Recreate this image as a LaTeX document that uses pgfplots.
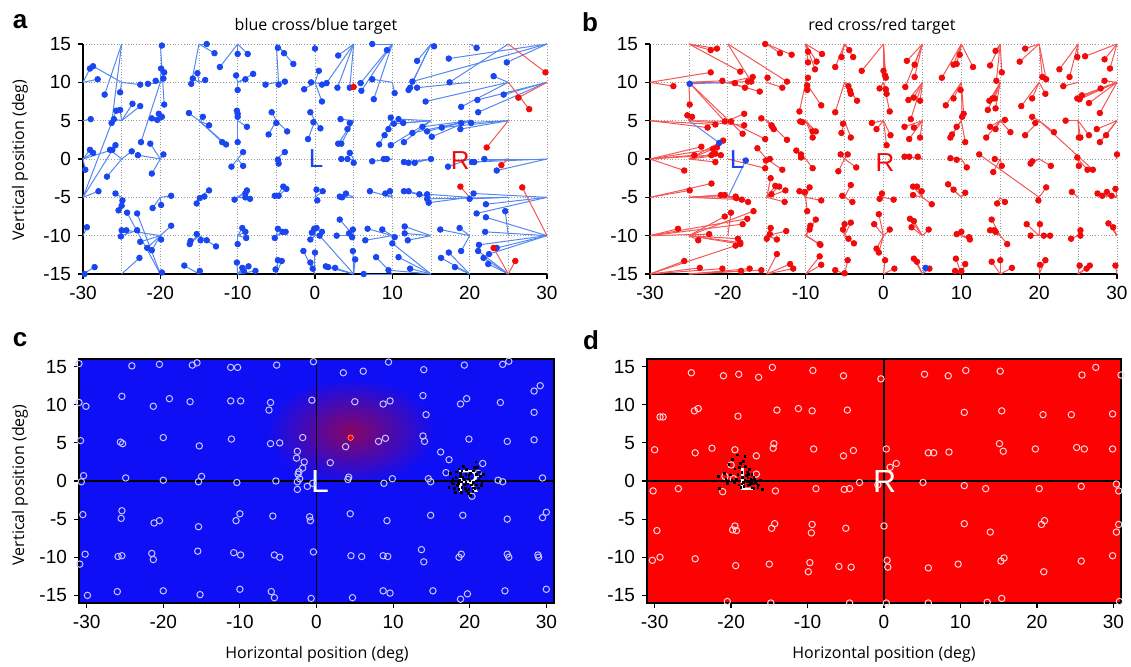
\documentclass[border=0pt]{standalone}
\usepackage{pgfplots}
\pgfplotsset{compat=1.18}
\usepackage{pgfplotstable}
\usepackage{fontspec}
\setmainfont{Liberation Sans}
\newfontfamily\labfont{Open Sans}

\definecolor{dotblue}{RGB}{25,70,240}
\definecolor{lineblue}{RGB}{85,135,240}
\definecolor{dotred}{RGB}{240,10,10}
\definecolor{linered}{RGB}{245,85,85}
\definecolor{bgblue}{RGB}{15,15,245}
\definecolor{bgred}{RGB}{252,2,2}
\definecolor{glow}{RGB}{135,5,100}

% saccades: target (tx,ty) -> landing point (x,y)
\pgfplotstableread{
tx ty x y
-20 15 -19.8 14.8
-15 15 -14.0 15.0
-15 15 -13.0 13.8
-10 15 -12.3 12.0
-10 15 -10.0 13.7
-10 15 -8.7 13.7
-5 15 -4.8 14.5
-5 15 -4.0 13.8
-30 10 -29.1 11.8
-25 10 -28.7 12.1
-30 10 -28.1 10.4
-25 15 -27.2 8.4
-25 10 -25.2 8.7
-25 10 -22.6 9.7
-20 10 -21.6 9.8
-20 10 -20.6 10.2
-20 10 -19.9 11.8
-20 10 -19.5 11.3
-20 10 -19.6 10.5
-20 15 -19.5 7.1
-15 15 -16.0 9.8
-15 10 -15.8 10.5
-15 10 -15.2 11.2
-15 10 -14.2 10.3
-10 10 -10.2 10.9
-10 10 -10.0 9.0
-10 10 -9.0 10.4
-10 10 -8.0 11.1
-5 10 -6.4 9.7
-5 15 -4.7 9.7
-5 10 -3.9 10.1
-30 5 -29.0 5.2
-25 15 -26.3 4.7
-25 5 -26.0 5.2
-30 -5 -25.7 6.3
-25 5 -25.2 6.4
-25 5 -23.6 7.2
-25 5 -22.6 6.9
-20 5 -21.1 5.3
-20 5 -20.4 5.1
-20 5 -20.2 5.9
-20 5 -19.8 5.5
-15 5 -16.3 6.0
-15 5 -14.5 5.5
-15 5 -13.7 4.4
-15 5 -12.0 2.2
-15 5 -11.5 1.9
-10 5 -10.1 6.3
-10 5 -10.0 5.9
-10 5 -10.0 5.5
-10 5 -8.8 4.2
-10 5 -10.0 2.2
-5 5 -5.6 6.1
-5 5 -6.0 3.2
-5 5 -5.0 4.7
-5 5 -3.6 3.6
-30 0 -29.7 -1.4
-30 0 -29.1 1.2
-30 0 -28.7 0.8
-25 0 -26.5 1.2
-30 0 -26.2 1.2
-30 -5 -25.8 1.8
-25 0 -23.7 1.0
-20 0 -22.9 0.5
-20 10 -22.5 2.2
-20 0 -21.3 2.0
-20 0 -21.1 -1.9
-20 0 -19.6 0.6
-25 0 -26.9 -2.3
-10 0 -10.8 -1.0
-10 0 -9.3 0.9
-10 0 -9.3 -0.9
-5 0 -4.8 -0.1
-5 0 -4.7 -0.6
-5 0 -3.9 0.9
-30 -5 -28.0 -4.2
-25 -5 -25.8 -4.5
-25 -5 -24.9 -5.4
-25 -5 -25.0 -6.1
-25 -5 -25.4 -6.7
-20 -15 -24.3 -7.0
-20 -15 -23.0 -7.1
-20 -5 -21.0 -6.4
-20 -5 -19.9 -6.0
-20 -5 -18.6 -4.8
-15 -5 -15.3 -5.8
-15 -5 -14.9 -5.1
-15 -5 -14.3 -4.9
-15 -5 -13.7 -4.1
-10 -5 -10.4 -5.3
-10 -5 -8.8 -4.1
-10 -5 -9.0 -4.5
-10 -5 -9.0 -5.0
-10 -5 -8.4 -5.2
-5 -5 -5.2 -4.8
-5 -5 -4.7 -4.8
-5 -5 -4.1 -3.6
-5 -5 -3.7 -3.9
-30 -10 -29.5 -8.9
-25 -10 -25.1 -10.1
-25 -10 -25.0 -9.3
-20 -10 -24.4 -9.3
-25 -10 -23.0 -9.3
-20 -10 -22.6 -10.8
-20 -10 -21.7 -11.6
-20 -10 -21.1 -11.9
-20 -10 -19.9 -10.5
-20 -10 -18.6 -8.7
-15 -10 -16.2 -11.1
-15 -10 -16.1 -10.7
-15 -10 -15.3 -9.8
-15 -10 -14.8 -10.6
-15 -10 -14.0 -10.6
-15 -10 -12.8 -11.4
-10 -10 -10.0 -11.1
-10 -10 -9.4 -9.0
-10 -10 -9.0 -9.5
-10 -10 -8.9 -10.3
-5 -10 -5.2 -10.3
-5 -10 -4.8 -9.1
-5 -10 -4.2 -9.5
-5 -10 -3.8 -9.5
-30 -15 -29.8 -15.0
-30 -15 -28.5 -14.1
-25 -15 -22.7 -12.9
-20 -15 -19.8 -14.8
-15 -15 -16.9 -13.9
-15 -15 -14.9 -14.6
-10 -15 -10.1 -13.5
-10 -15 -9.4 -14.2
-10 -15 -9.2 -14.6
-10 -15 -8.6 -14.0
-10 -15 -7.7 -14.6
-5 -15 -5.1 -14.4
-5 -15 -4.8 -13.2
-5 -15 -4.3 -13.3
0 15 0.0 14.4
5 15 3.0 13.5
-5 15 -2.8 12.4
10 15 7.4 15.0
10 15 9.3 14.2
15 15 13.2 12.8
15 15 15.4 14.7
30 15 17.3 13.1
20 15 20.9 14.5
30 15 24.8 12.6
0 10 0.5 11.5
0 10 -0.5 10.0
0 10 -1.4 9.1
0 10 0.9 9.7
5 15 1.5 9.9
0 10 0.9 7.5
5 15 2.9 9.3
5 15 4.5 9.3
10 15 5.9 9.9
10 15 6.0 8.9
10 10 7.4 10.4
10 15 7.6 7.8
10 10 10.3 8.6
30 15 12.6 10.1
15 15 12.3 9.3
15 15 12.1 9.0
20 10 13.2 9.3
25 10 14.3 7.5
25 15 17.4 10.0
25 10 18.9 6.8
30 10 21.0 7.7
30 10 21.1 6.1
30 10 24.4 8.4
25 10 23.1 10.8
0 5 -0.6 6.1
0 5 -0.9 2.6
0 5 -0.2 4.8
0 5 0.7 4.0
5 5 3.3 5.2
5 5 4.2 3.9
5 5 4.5 4.7
5 5 3.0 2.0
5 5 3.4 2.0
10 5 9.8 5.4
15 5 10.8 5.2
15 5 10.2 4.6
10 5 9.5 3.9
10 5 9.0 3.1
10 5 8.3 1.9
15 5 9.8 1.8
15 5 11.5 2.2
15 5 11.4 4.7
20 5 12.6 3.4
20 5 13.9 4.2
20 5 14.5 3.6
20 5 15.1 2.9
25 5 16.4 4.1
25 5 18.9 4.7
25 5 18.8 3.9
20 5 20.2 4.7
5 0 3.4 0.0
5 0 4.5 0.8
5 0 4.2 0.0
5 0 5.0 -0.5
10 0 7.4 -0.3
10 0 8.9 0.0
10 0 9.3 0.0
15 0 11.5 -0.4
15 0 12.1 -0.5
15 0 12.9 -0.5
15 0 15.0 0.0
20 0 17.2 -1.0
30 0 20.3 -0.4
25 0 20.6 -0.4
30 0 21.9 0.0
30 0 23.5 -1.5
0 -5 0.2 -4.0
0 -5 1.0 -4.2
0 -5 0.3 -5.4
5 -5 3.2 -4.9
5 -5 3.5 -5.0
5 -5 4.0 -4.5
10 -5 7.1 -4.2
10 -5 9.1 -4.5
10 -5 9.7 -4.2
15 -5 11.5 -4.2
15 -5 12.1 -4.2
15 -5 13.5 -4.6
20 -5 14.5 -4.6
20 -5 14.7 -5.7
25 -5 14.5 -5.2
25 -5 20.0 -5.2
30 -5 20.5 -4.5
30 -5 22.1 -5.9
25 -10 24.6 -6.8
30 -5 20.9 -7.1
0 -10 -0.4 -9.6
0 -10 -0.1 -9.1
0 -10 0.2 -9.0
0 -10 0.9 -9.5
5 -15 0.6 -10.0
0 -10 -0.6 -10.5
5 -10 2.8 -10.0
5 -10 3.2 -7.9
5 -10 4.4 -9.7
5 -10 4.9 -9.2
5 -10 4.8 -10.2
10 -10 6.8 -9.1
10 -10 8.7 -9.2
10 -10 6.5 -10.6
15 -15 10.0 -11.0
10 -10 10.3 -10.2
15 -10 11.6 -9.7
15 -10 12.0 -10.6
15 -10 11.6 -8.8
20 -10 16.2 -9.2
20 -10 18.7 -9.0
30 -10 21.2 -11.2
30 -10 22.1 -7.6
30 -10 22.0 -9.5
25 -15 21.1 -12.0
25 -15 21.8 -12.9
30 -10 22.5 -12.4
30 -10 23.5 -11.6
25 -15 22.4 -13.7
0 -15 -1.5 -12.0
0 -15 -0.6 -13.5
0 -15 -0.3 -14.3
0 -15 0.0 -12.2
5 -15 1.4 -14.0
5 -15 1.7 -14.1
5 -15 2.6 -14.2
5 -15 4.9 -12.0
5 -15 5.2 -13.1
10 -15 6.3 -15.0
10 -15 7.9 -12.8
15 -15 9.5 -14.5
15 -15 10.8 -12.8
15 -15 12.3 -14.3
20 -15 16.3 -12.9
20 -15 17.3 -12.2
20 -15 18.1 -14.1
20 -10 18.9 -12.0
}\blueA

\pgfplotstableread{
tx ty x y
5 10 5.0 9.4
25 15 29.8 11.3
30 10 26.3 8.0
25 10 27.7 6.5
25 5 22.2 1.5
25 0 24.1 -0.8
20 -5 18.8 -3.6
30 -10 26.8 -3.7
25 -15 23.1 -11.6
25 -15 25.9 -13.3
}\redA

\pgfplotstableread{
tx ty x y
-25 15 -22.2 14.2
-25 15 -21.4 14.4
-15 15 -15.2 15.0
-15 15 -13.3 13.8
-15 15 -11.8 13.6
-10 15 -9.7 14.0
-10 15 -9.7 12.6
-10 15 -8.6 12.7
-10 15 -8.8 11.7
-10 15 -7.9 13.7
-5 15 -6.2 12.0
-5 15 -5.4 13.3
-5 15 -4.4 14.2
-5 15 -3.9 13.3
-30 10 -22.2 11.3
-25 15 -18.4 11.4
-30 10 -27.0 9.5
-25 10 -20.7 10.2
-25 10 -19.1 9.9
-20 10 -17.8 9.3
-20 10 -17.4 10.1
-20 10 -16.8 10.7
-20 15 -17.0 10.1
-20 10 -15.9 8.8
-15 10 -14.9 10.6
-15 10 -13.0 9.3
-20 15 -12.4 10.1
-10 10 -9.7 10.6
-10 10 -9.8 9.0
-10 10 -9.8 9.6
-10 10 -8.0 7.0
-5 10 -6.2 6.1
-5 10 -4.5 9.5
-5 10 -4.3 8.9
-5 10 -4.2 8.5
-5 10 -3.4 7.6
-25 5 -25.2 5.7
-25 5 -24.6 5.5
-25 10 -24.9 7.1
-30 5 -22.6 4.1
-30 5 -21.6 4.5
-25 10 -20.4 4.9
-25 5 -19.6 4.9
-20 5 -17.9 5.9
-25 5 -17.9 4.4
-25 10 -18.1 3.3
-15 5 -15.7 5.3
-20 5 -15.2 2.6
-15 5 -14.4 4.4
-15 5 -14.1 3.9
-15 5 -14.3 4.2
-15 5 -12.4 2.5
-10 10 -10.8 6.2
-10 5 -10.7 4.9
-10 5 -10.4 4.8
-10 5 -9.1 3.6
-10 5 -8.7 3.6
-10 5 -9.1 2.8
-5 5 -5.2 4.6
-5 5 -5.4 3.4
-5 5 -4.2 2.8
-30 0 -23.4 1.6
-30 0 -24.3 0.5
-30 0 -21.9 1.3
-25 0 -21.4 1.5
-25 0 -21.6 0.7
-30 0 -22.1 0.5
-25 0 -20.9 0.5
-25 0 -21.6 -0.4
-25 0 -20.6 2.4
-30 0 -25.6 -1.5
-15 0 -16.2 1.4
-20 0 -15.2 -1.2
-15 0 -15.1 -0.2
-15 0 -14.6 0.0
-15 0 -13.0 -1.4
-10 0 -11.2 1.1
-10 0 -10.6 0.6
-10 0 -10.6 0.2
-10 0 -9.1 -1.2
-5 0 -5.5 0.6
-5 0 -4.6 0.6
-5 0 -3.5 -1.1
-5 0 -5.8 -1.6
-30 -5 -22.1 -3.2
-30 -5 -24.9 -4.1
-25 -5 -20.9 -4.7
-25 -5 -20.4 -4.7
-25 -5 -19.0 -4.9
-20 -5 -18.9 -5.1
-25 -5 -18.2 -5.3
-20 -5 -17.4 -5.6
-25 -10 -16.7 -6.8
-20 -10 -19.6 -7.0
-25 -10 -20.4 -7.5
-15 -5 -14.5 -2.5
-15 -5 -13.9 -3.5
-15 -5 -13.4 -3.6
-15 -5 -14.4 -4.6
-15 -5 -12.6 -4.1
-15 -5 -12.7 -5.6
-10 -5 -10.8 -4.2
-10 -5 -10.1 -4.3
-10 -5 -9.5 -3.7
-10 -5 -8.0 -5.4
-10 -5 -9.8 -6.8
-5 -5 -5.3 -4.8
-5 -5 -4.2 -3.4
-5 -5 -4.0 -5.6
-30 -10 -26.4 -9.1
-30 -10 -22.4 -9.8
-25 -10 -23.8 -10.6
-30 -10 -18.1 -8.5
-30 -10 -17.5 -7.8
-25 -10 -18.7 -10.4
-25 -10 -18.4 -10.9
-30 -15 -19.0 -11.3
-25 -10 -18.4 -11.1
-15 -10 -14.5 -9.0
-15 -10 -14.6 -9.8
-15 -10 -15.0 -10.4
-15 -10 -13.7 -10.5
-15 -10 -12.5 -9.4
-10 -10 -9.4 -8.7
-10 -10 -9.5 -9.2
-10 -10 -8.7 -7.9
-10 -10 -8.2 -11.1
-10 -10 -8.1 -11.2
-5 -10 -5.0 -8.5
-5 -10 -5.2 -9.2
-5 -10 -4.2 -8.3
-5 -10 -4.5 -10.4
-5 -10 -3.8 -11.0
-30 -15 -25.6 -13.3
-30 -15 -23.6 -14.2
-30 -15 -20.7 -14.3
-25 -15 -18.3 -14.6
-25 -15 -17.2 -14.3
-25 -15 -15.7 -14.5
-15 -15 -13.7 -12.4
-15 -15 -12.0 -13.7
-15 -15 -11.6 -14.3
-10 -15 -8.2 -12.7
-10 -15 -8.0 -13.8
-5 -15 -6.2 -14.5
-5 -15 -5.0 -14.9
-5 -15 -4.6 -13.2
0 15 0.0 11.5
0 15 0.2 10.9
0 15 0.3 10.6
0 15 -2.8 11.5
5 15 3.0 12.8
5 15 4.0 12.3
5 15 4.0 10.7
5 15 2.8 9.4
10 15 7.5 10.6
10 15 9.0 12.3
10 15 9.4 12.4
10 15 9.8 13.6
10 15 11.5 12.0
15 15 13.7 12.2
15 15 14.4 14.1
15 15 14.5 10.2
15 15 15.2 11.3
20 15 17.5 12.7
20 15 18.2 14.4
20 15 20.4 10.7
20 15 20.9 10.4
25 15 22.6 11.7
25 15 24.9 13.3
25 15 23.9 10.7
30 15 25.9 13.4
30 15 28.4 13.0
30 15 29.1 11.8
0 10 -0.5 9.2
0 10 0.3 9.1
0 10 0.4 8.5
0 10 0.8 6.2
5 10 3.2 7.7
5 10 3.9 8.0
5 10 4.7 7.6
5 10 3.5 5.2
10 10 8.0 7.0
10 10 9.0 7.9
10 10 9.9 9.0
10 10 10.3 5.9
10 10 10.1 5.5
15 10 13.4 6.4
15 10 13.6 7.6
15 10 14.0 7.9
15 10 14.4 6.6
15 10 14.3 7.9
20 10 17.7 6.9
20 10 19.1 7.9
20 10 20.8 8.5
25 10 23.1 9.5
30 10 24.9 7.9
30 10 25.2 7.8
30 10 25.5 8.3
30 10 26.4 7.3
30 10 27.9 9.2
30 10 27.8 6.0
30 10 28.4 10.2
0 5 -1.5 4.7
0 5 -0.9 3.9
0 5 0.4 1.8
0 5 0.9 3.1
5 5 2.7 4.2
5 5 3.3 2.6
5 5 3.9 4.1
5 5 4.7 2.8
10 5 8.6 2.8
10 5 8.8 3.2
10 5 9.4 4.2
10 5 10.5 2.2
15 5 13.2 2.8
15 5 13.7 4.2
15 5 14.4 3.9
15 5 15.6 5.1
15 5 16.3 3.5
20 5 18.2 3.1
20 5 19.1 5.5
20 5 19.5 4.7
20 5 21.9 3.5
25 5 23.4 5.0
25 5 25.1 2.8
25 5 25.3 2.8
25 5 26.4 3.1
30 5 27.4 3.9
30 5 27.8 2.2
30 5 28.6 3.1
20 5 26.9 -1.4
5 0 2.7 0.3
5 0 3.3 0.3
5 0 4.4 0.3
10 0 8.6 0.1
10 0 9.4 -0.1
10 0 10.7 -1.1
20 -5 12.3 0.6
15 0 14.1 -1.7
15 0 14.3 0.0
15 0 15.2 -0.9
20 0 18.9 -0.6
20 0 19.1 -0.3
20 0 21.5 -0.9
25 0 24.9 0.2
25 0 25.1 -0.9
25 0 26.2 -1.4
30 0 30.0 0.6
0 -5 -0.2 -4.5
0 -5 -0.5 -5.2
0 -5 1.3 -5.3
5 -5 3.8 -3.6
5 -5 4.3 -3.6
5 -5 3.8 -4.7
5 -5 4.9 -4.2
5 -5 6.2 -5.9
10 -5 8.3 -3.3
10 -5 9.0 -4.0
10 -5 10.5 -4.4
15 -5 14.6 -5.8
15 -5 15.6 -5.6
20 -5 20.9 -3.7
20 -5 19.9 -5.4
25 -5 24.2 -4.3
30 -5 27.5 -4.5
30 -5 28.1 -4.8
30 -5 28.7 -4.3
30 -5 29.3 -4.8
30 -5 29.8 -3.9
0 -10 -0.6 -7.2
0 -10 -1.2 -8.5
0 -10 0.8 -9.2
0 -10 -0.9 -11.7
0 -10 -0.6 -12.2
5 -10 3.4 -7.8
5 -10 3.9 -8.1
5 -10 3.6 -8.9
5 -10 5.8 -9.2
10 -10 9.4 -9.8
10 -10 10.0 -9.5
10 -10 11.0 -10.2
10 -10 11.1 -10.5
15 -10 13.9 -7.9
15 -10 13.7 -9.3
15 -10 14.2 -9.3
15 -10 14.4 -9.5
15 -10 15.9 -11.1
20 -10 18.4 -8.5
20 -10 18.9 -10.0
20 -10 20.1 -8.5
20 -10 20.6 -10.0
20 -10 21.4 -10.0
25 -10 24.1 -10.4
25 -10 25.3 -9.3
25 -10 25.3 -10.0
30 -10 28.9 -8.4
30 -10 29.5 -8.9
0 -15 1.4 -14.3
0 -15 0.2 -13.2
5 -15 3.9 -13.0
5 -15 4.3 -13.4
5 -15 5.9 -14.3
10 -15 9.3 -13.0
10 -15 9.2 -14.6
10 -15 10.0 -14.6
10 -15 10.5 -13.7
15 -15 13.9 -13.4
15 -15 15.0 -13.2
15 -15 16.5 -14.2
20 -15 20.1 -13.8
20 -15 20.8 -13.2
25 -15 25.2 -13.9
25 -15 26.1 -14.3
25 -15 26.5 -13.9
30 -15 29.8 -13.9
}\redB

\pgfplotstableread{
tx ty x y
-20 10 -24.9 9.8
-25 5 -21.1 2.1
-20 -5 -17.7 -0.2
5 -15 5.4 -14.2
}\blueB

% target positions shown as open rings
\pgfplotstableread{
x y
-31.0 15.4
-24.1 15.1
-20.5 15.3
-16.2 15.2
-15.6 15.5
-11.2 14.9
-10.3 14.9
-5.2 15.2
-31.0 10.3
-30.1 9.8
-25.4 11.1
-21.3 9.8
-19.2 10.8
-16.5 10.4
-11.2 10.5
-9.9 10.5
-6.0 10.3
-6.2 9.3
-30.8 5.3
-25.6 5.1
-25.3 4.9
-20.0 5.7
-15.3 4.6
-11.1 5.5
-6.0 4.9
-4.8 5.0
-2.5 3.9
-2.6 3.0
-30.4 0.7
-30.7 -0.1
-24.9 0.4
-20.0 0.1
-15.4 -0.1
-15.0 0.6
-10.4 -0.2
-5.3 0.0
-2.4 0.9
-2.5 -0.1
-2.5 -1.1
-30.5 -4.4
-25.4 -3.9
-25.5 -4.9
-21.2 -5.5
-20.5 -5.2
-15.4 -6.0
-10.0 -4.3
-10.5 -5.2
-5.7 -4.6
-30.2 -9.6
-30.9 -10.9
-25.9 -9.9
-25.4 -9.8
-21.5 -9.5
-21.3 -10.3
-15.5 -9.2
-10.8 -9.4
-9.9 -9.7
-5.5 -9.7
-4.8 -10.0
-29.9 -15.0
-26.0 -14.5
-20.0 -14.4
-15.2 -14.9
-10.0 -14.2
-5.9 -14.5
-5.5 -15.3
-0.4 15.65
3.5 14.2
6.1 14.4
9.4 15.6
14.0 14.6
19.3 15.2
24.3 15.3
25.1 15.7
-0.6 10.6
5.0 10.4
8.7 10.1
9.6 10.5
13.9 11.2
14.3 8.7
18.8 10.1
19.6 10.8
24.0 10.3
28.4 11.8
29.2 12.5
28.4 9.0
-1.8 5.7
3.8 4.5
8.1 5.2
9.0 5.6
13.9 5.9
14.1 5.2
19.9 5.5
24.9 5.2
28.4 5.4
-1.6 2.5
-1.8 1.7
-2.3 1.2
-2.2 0.3
-1.2 -0.7
-0.5 -0.3
1.8 2.4
4.2 0.5
4.1 0.2
8.8 -0.3
9.9 0.3
14.6 0.3
14.9 -0.1
16.2 3.8
17.3 2.8
16.9 1.1
20.3 -2.0
21.7 2.3
21.1 1.0
23.7 0.1
24.3 -0.1
29.5 0.4
-0.9 -4.7
-0.8 -5.2
4.4 -4.3
9.2 -5.2
14.9 -4.5
19.1 -4.5
24.9 -5.0
30.0 -4.1
29.5 -4.8
-0.4 -9.3
4.5 -9.8
5.9 -9.9
8.7 -9.8
9.3 -9.9
13.7 -9.0
14.0 -10.6
18.6 -10.0
18.9 -9.6
24.9 -9.6
25.1 -10.0
28.9 -9.7
29.0 -10.0
-0.7 -15.4
4.7 -15.3
8.7 -14.4
9.6 -14.7
15.2 -14.4
18.8 -15.5
19.7 -14.8
24.6 -14.4
30.0 -14.2
}\ringsC

\pgfplotstableread{
x y
-25.2 14.2
-21.0 13.8
-19.0 14.0
-16.4 13.6
-14.6 14.9
-9.3 14.5
-5.3 13.8
-29.3 8.4
-28.9 8.4
-24.8 9.2
-24.3 9.5
-19.1 8.5
-14.0 9.3
-11.2 9.5
-9.4 9.2
-4.8 9.3
-30.0 4.1
-24.7 3.7
-22.5 4.3
-19.5 4.1
-14.4 4.9
-14.5 4.3
-16.7 3.3
-9.2 4.2
-5.3 3.3
-4.0 4.0
-20.0 2.1
-20.8 0.6
-19.7 0.3
-16.7 0.9
-30.2 -1.3
-26.9 -1.0
-21.1 -1.4
-14.2 -1.3
-8.9 -1.0
-5.2 -1.1
-4.5 -1.0
-3.2 -0.2
-29.7 -6.5
-19.5 -5.9
-19.8 -6.4
-19.3 -6.5
-14.3 -5.6
-14.7 -6.2
-9.4 -5.7
-9.5 -6.8
-5.0 -6.2
-30.3 -10.4
-29.3 -10.0
-24.7 -10.2
-19.4 -11.1
-15.0 -10.9
-9.7 -10.7
-9.9 -11.9
-5.9 -11.2
-4.3 -11.3
-20.5 -15.8
-14.8 -16.0
-4.5 -16.0
-0.4 13.4
5.3 14.0
8.4 13.8
10.7 14.5
15.2 14.4
25.9 13.9
27.7 14.9
31.0 13.9
10.5 9.0
15.4 9.2
20.8 8.7
24.5 8.7
29.9 8.8
0.3 4.2
5.8 3.7
6.5 3.7
8.5 3.8
15.1 4.9
15.6 3.9
19.8 4.2
25.2 4.4
26.2 4.2
29.9 4.2
0.8 1.8
1.6 2.3
-0.8 -0.5
5.1 -0.2
10.5 -0.6
13.3 -1.0
20.3 -1.0
25.8 -0.7
30.4 -0.4
30.7 -1.3
0.0 -5.9
10.5 -5.6
13.9 -6.7
20.6 -5.7
21.0 -5.2
30.7 -5.7
30.4 -6.7
0.4 -10.4
0.5 -11.3
5.8 -11.4
9.7 -10.9
15.3 -10.5
15.7 -10.1
20.9 -11.9
25.8 -10.5
29.9 -9.8
0.3 -16.0
5.8 -16.0
13.5 -15.9
15.4 -15.4
25.0 -16.1
26.2 -16.1
30.8 -15.8
}\ringsD

% fixation samples
\pgfplotstableread{
x y
18.2 0.5
18.5 -0.3
18.8 1.0
19.0 -0.8
19.3 0.2
19.6 -1.2
19.9 0.7
20.2 -0.5
20.5 1.3
20.8 0.0
21.1 -0.9
21.4 0.6
18.0 -1.0
17.8 0.2
18.6 1.6
19.2 1.9
19.8 -1.6
20.4 -1.4
21.0 1.8
21.6 -0.2
17.5 1.0
18.9 -1.5
19.5 0.9
20.0 0.0
20.7 -1.0
19.1 0.5
18.4 -0.6
20.9 0.9
19.7 -0.4
18.7 0.1
21.3 1.2
17.9 -0.4
19.4 -1.0
20.3 0.4
20.6 1.8
18.3 1.2
21.8 0.9
19.0 1.3
20.1 -1.9
18.1 -1.5
20.8 2.5
17.3 -0.8
19.6 1.5
20.5 -0.2
18.9 -0.1
18.6 -1.1
19.3 -0.5
19.8 0.3
20.1 1.0
20.9 -0.5
21.2 0.1
18.1 0.0
18.8 0.6
19.5 -0.2
20.4 -0.9
17.7 -0.2
19.9 -1.1
21.5 -0.6
}\fixC

\pgfplotstableread{
x y
-21.5 -1.0
-21.7 0.6
-20.9 1.0
-20.5 -0.3
-20.1 0.8
-19.8 2.8
-19.5 1.6
-19.3 0.2
-19.0 -0.5
-18.8 2.3
-18.6 1.1
-18.4 -0.2
-18.2 3.2
-18.0 0.7
-17.8 -0.6
-17.6 1.5
-17.4 0.2
-17.2 -0.9
-17.0 0.5
-16.8 -0.2
-16.5 -0.8
-16.2 0.1
-15.9 -1.1
-19.2 3.4
-20.3 2.2
-18.9 1.8
-18.1 1.9
-17.9 -0.1
-17.5 -0.3
-17.1 -0.4
-16.9 0.3
-18.5 0.5
-19.6 -0.2
-20.7 0.3
-18.3 -0.7
-17.7 0.9
-16.6 -0.4
-17.3 0.9
-18.7 -0.8
-19.9 0.1
-17.0 -1.0
-16.4 -0.5
-18.2 0.1
-17.6 -0.5
-17.9 1.2
-18.6 -0.4
-17.3 -0.2
-16.7 0.0
-19.1 0.9
-18.4 2.6
-17.1 0.1
-17.8 0.4
}\fixD

\pgfplotsset{
  common/.style={
    scale only axis,
    /pgf/number format/assume math mode=true,
    tick label style={font=\fontsize{9.5}{9.5}\selectfont, text=black},
    tick align=outside,
    major tick length=2.5pt,
    tick style={black, line width=0.6pt},
  },
  toppanel/.style={
    common,
    height=115pt,
    xmin=-30, xmax=30, ymin=-15, ymax=15,
    axis x line*=bottom, axis y line*=left,
    axis line style={-, line width=0.8pt, black},
    xtick={-30,-20,...,30},
    minor xtick={-25,-15,...,25},
    minor tick length=0pt,
    ytick={-15,-10,...,15},
    grid=both,
    major grid style={densely dotted, black!40, line width=0.4pt},
    minor grid style={densely dotted, black!40, line width=0.4pt},
    clip=false,
  },
  botpanel/.style={
    common,
    height=122pt,
    xmin=-31, xmax=31, ymin=-16, ymax=16,
    xtick={-30,-20,...,30},
    ytick={-15,-10,...,15},
    tick pos=left,
    axis line style={line width=0.8pt, black},
  },
  sac/.style={line width=0.5pt, quiver={u=\thisrow{x}-\thisrow{tx}, v=\thisrow{y}-\thisrow{ty}}},
  land/.style={only marks, mark=*, mark size=1.4pt},
  ring/.style={only marks, mark=o, mark size=1.6pt, mark options={line width=0.5pt}},
}

\begin{document}
\begin{tikzpicture}
\path[use as bounding box] (0pt,0pt) rectangle (565.5pt,333pt);

% panel a
\begin{axis}[toppanel, at={(41.5pt,196pt)}, anchor=south west, width=232pt]
\addplot[lineblue, sac] table[x=tx, y=ty] {\blueA};
\addplot[linered, sac] table[x=tx, y=ty] {\redA};
\addplot[land, dotblue] table[x=x, y=y] {\blueA};
\addplot[land, dotred] table[x=x, y=y] {\redA};
\node[text=dotblue, font=\fontsize{13}{13}\selectfont] at (axis cs:0.15,0.1) {L};
\node[text=dotred, font=\fontsize{13}{13}\selectfont] at (axis cs:18.8,-0.2) {R};
\end{axis}

% panel b
\begin{axis}[toppanel, at={(325pt,196pt)}, anchor=south west, width=233.5pt]
\addplot[linered, sac] table[x=tx, y=ty] {\redB};
\addplot[lineblue, sac] table[x=tx, y=ty] {\blueB};
\addplot[land, dotred] table[x=x, y=y] {\redB};
\addplot[land, dotblue] table[x=x, y=y] {\blueB};
\node[text=dotblue, font=\fontsize{13}{13}\selectfont] at (axis cs:-18.8,-0.1) {L};
\node[text=dotred, font=\fontsize{13}{13}\selectfont] at (axis cs:0.2,-0.4) {R};
\end{axis}

% panel c
\begin{axis}[botpanel, at={(39.5pt,31.5pt)}, anchor=south west, width=237.5pt,
  axis background/.style={fill=bgblue}]
\addplot[draw=none, shading=radial, inner color=glow, outer color=bgblue]
  coordinates {(-6.5,-0.5) (15.5,-0.5) (15.5,13.5) (-6.5,13.5)} -- cycle;
\addplot[black, line width=0.6pt] coordinates {(0,-16) (0,16)};
\addplot[black, line width=0.6pt] coordinates {(-31,0) (31,0)};
\addplot[ring, white!78!blue] table {\ringsC};
\addplot[only marks, mark=square*, mark size=0.4pt, black] table {\fixC};
\addplot[only marks, mark=*, mark size=1.4pt, red, mark options={draw=white!60!red, line width=0.3pt}] coordinates {(4.46,5.68)};
\node[text=white, font=\fontsize{16}{16}\selectfont] at (axis cs:0.45,-0.05) {L};
\node[text=white, font=\fontsize{16}{16}\selectfont] at (axis cs:19.8,-0.05) {R};
\end{axis}

% panel d
\begin{axis}[botpanel, at={(323.5pt,31.5pt)}, anchor=south west, width=237pt,
  axis background/.style={fill=bgred}]
\addplot[black, line width=0.6pt] coordinates {(0,-16) (0,16)};
\addplot[black, line width=0.6pt] coordinates {(-31,0) (31,0)};
\addplot[ring, white!85!red] table {\ringsD};
\addplot[only marks, mark=square*, mark size=0.4pt, black] table {\fixD};
\node[text=white, font=\fontsize{16}{16}\selectfont] at (axis cs:-17.9,0.25) {L};
\node[text=white, font=\fontsize{16}{16}\selectfont] at (axis cs:0.1,-0.05) {R};
\end{axis}

% titles, axis labels, panel letters
\node[font=\labfont\fontsize{8}{8}\selectfont] at (158pt,320pt) {blue cross/blue target};
\node[font=\labfont\fontsize{8}{8}\selectfont] at (441pt,320pt) {red cross/red target};
\node[font=\labfont\fontsize{8}{8}\selectfont, rotate=90] at (10pt,253pt) {Vertical position (deg)};
\node[font=\labfont\fontsize{8}{8}\selectfont, rotate=90] at (10pt,90.5pt) {Vertical position (deg)};
\node[font=\labfont\fontsize{8}{8}\selectfont] at (158.5pt,6pt) {Horizontal position (deg)};
\node[font=\labfont\fontsize{8}{8}\selectfont] at (442pt,6pt) {Horizontal position (deg)};
\node[font=\bfseries\fontsize{13}{13}\selectfont] at (10pt,322pt) {a};
\node[font=\bfseries\fontsize{13}{13}\selectfont] at (295pt,322pt) {b};
\node[font=\bfseries\fontsize{13}{13}\selectfont] at (10pt,163pt) {c};
\node[font=\bfseries\fontsize{13}{13}\selectfont] at (295.5pt,163pt) {d};
\end{tikzpicture}
\end{document}
